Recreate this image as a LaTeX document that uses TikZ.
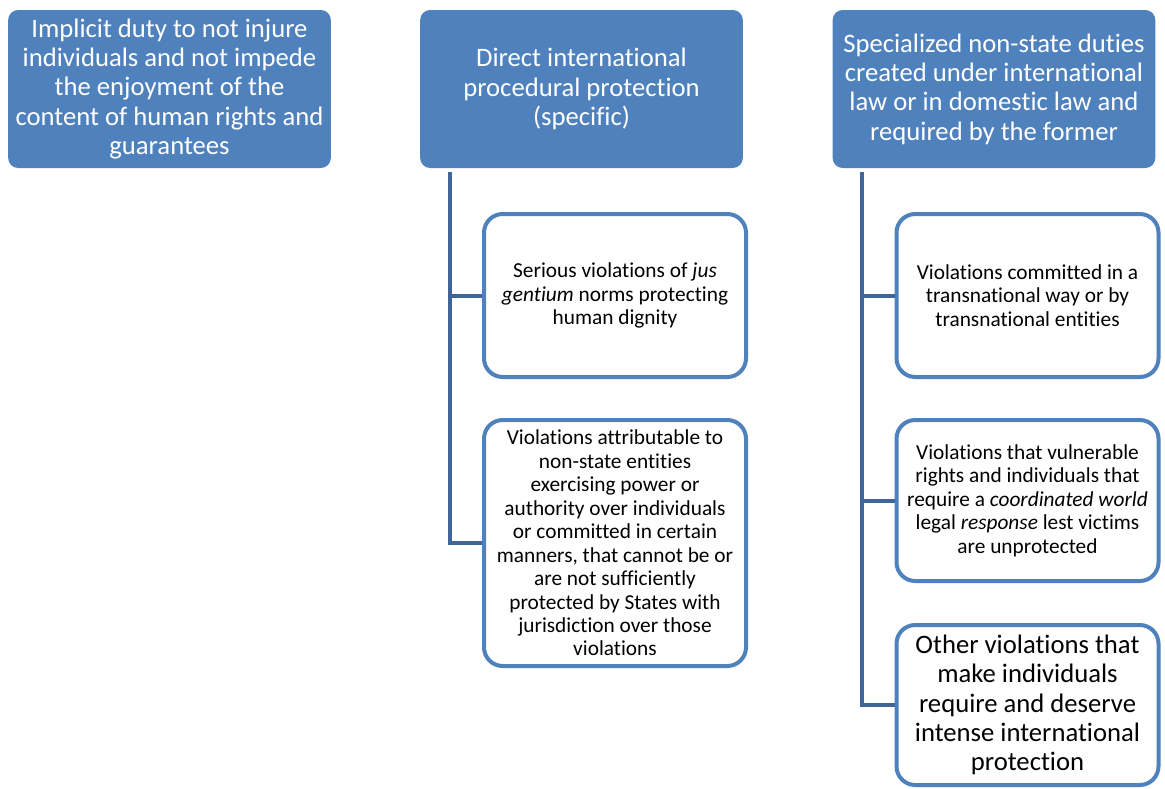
\documentclass[tikz,border=0pt]{standalone}
\usepackage{fontspec}
\setmainfont{Carlito}[Ligatures={NoCommon}]
\definecolor{accent}{RGB}{79,129,189}
\definecolor{linec}{RGB}{64,102,153}
\tikzset{
  head/.style={draw=none, fill=accent, rounded corners=7.5pt, minimum width=242pt, minimum height=118.5pt,
    text=white, align=center, inner sep=0pt, font=\fontsize{20}{22}\selectfont},
  child/.style={draw=accent, line width=3pt, fill=white, rounded corners=14pt, minimum width=196.5pt,
    text=black, align=center, inner sep=0pt, font=\fontsize{16}{17.6}\selectfont},
  conn/.style={draw=linec, line width=3pt}
}
\begin{document}
\begin{tikzpicture}[x=0.75pt,y=-0.75pt]
\useasboundingbox (0,0) rectangle (1165,789);
\node[head] (h1) at (169.5,89) {Implicit duty to not injure\\individuals and not impede\\the enjoyment of the\\content of human rights and\\guarantees};
\node[head] (h2) at (581.5,89) {Direct international\\procedural protection\\(specific)};
\node[head] (h3) at (994,89) {Specialized non-state duties\\created under international\\law or in domestic law and\\required by the former};

\node[child, minimum height=122.25pt] (c21) at (615,295.5) {Serious violations of \textit{jus}\\\textit{gentium} norms protecting\\human dignity};
\node[child, minimum height=184.5pt] (c22) at (615,543) {Violations attributable to\\non-state entities\\exercising power or\\authority over individuals\\or committed in certain\\manners, that cannot be or\\are not sufficiently\\protected by States with\\jurisdiction over those\\violations};

\node[child, minimum height=122.25pt] (c31) at (1027.5,295.5) {Violations committed in a\\transnational way or by\\transnational entities};
\node[child, minimum height=120.75pt] (c32) at (1027.5,500.5) {Violations that vulnerable\\rights and individuals that\\require a \textit{coordinated world}\\legal \textit{response} lest victims\\are unprotected};
\node[child, minimum height=120pt, font=\fontsize{20}{22}\selectfont] (c33) at (1027.5,705) {Other violations that\\make individuals\\require and deserve\\intense international\\protection};

\coordinate (t2) at (450,172);
\coordinate (t3) at (862,172);
\draw[conn] (t2) |- (c22.west);
\draw[conn] (c21.west) -- (c21.west -| t2);
\draw[conn] (t3) |- (c33.west);
\draw[conn] (c31.west) -- (c31.west -| t3);
\draw[conn] (c32.west) -- (c32.west -| t3);
\end{tikzpicture}
\end{document}
